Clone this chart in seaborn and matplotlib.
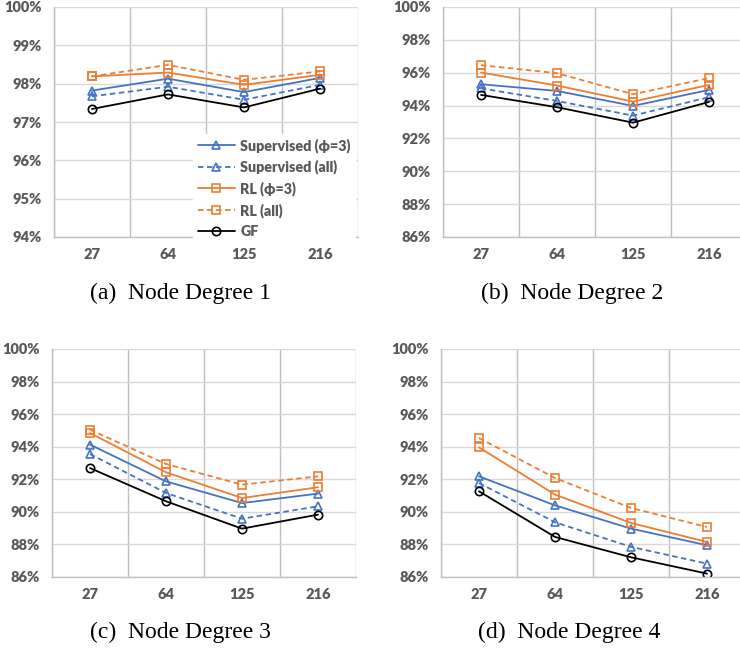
import numpy as np
import pandas as pd
import matplotlib
matplotlib.use("Agg")
import matplotlib.pyplot as plt
import seaborn as sns
from matplotlib.ticker import PercentFormatter, FixedLocator

sns.set_theme(style="white")
plt.rcParams['font.family'] = ['Lato', 'DejaVu Sans']

categories = ["27", "64", "125", "216"]
series_names = ["Supervised (\u03d5=3)", "Supervised (all)", "RL (\u03d5=3)", "RL (all)", "GF"]

# Node Degree 1
d1_sup3 = [97.82, 98.13, 97.78, 98.15]
d1_supall = [97.67, 97.92, 97.58, 97.97]
d1_rl3 = [98.19, 98.29, 97.97, 98.23]
d1_rlall = [98.19, 98.49, 98.10, 98.32]
d1_gf = [97.34, 97.72, 97.38, 97.87]
# Node Degree 2
d2_sup3 = [95.30, 94.89, 93.98, 94.95]
d2_supall = [95.05, 94.28, 93.39, 94.51]
d2_rl3 = [96.01, 95.22, 94.24, 95.26]
d2_rlall = [96.46, 95.97, 94.69, 95.67]
d2_gf = [94.65, 93.90, 92.96, 94.22]
# Node Degree 3
d3_sup3 = [94.13, 91.87, 90.54, 91.12]
d3_supall = [93.55, 91.16, 89.58, 90.34]
d3_rl3 = [94.84, 92.43, 90.85, 91.51]
d3_rlall = [95.05, 92.94, 91.67, 92.18]
d3_gf = [92.69, 90.65, 88.97, 89.83]
# Node Degree 4
d4_sup3 = [92.18, 90.40, 88.97, 87.95]
d4_supall = [91.77, 89.36, 87.85, 86.82]
d4_rl3 = [93.96, 91.06, 89.32, 88.15]
d4_rlall = [94.54, 92.08, 90.24, 89.07]
d4_gf = [91.26, 88.46, 87.21, 86.21]

captions = ["(a)  Node Degree 1", "(b)  Node Degree 2", "(c)  Node Degree 3", "(d)  Node Degree 4"]
panels = [
    [d1_sup3, d1_supall, d1_rl3, d1_rlall, d1_gf],
    [d2_sup3, d2_supall, d2_rl3, d2_rlall, d2_gf],
    [d3_sup3, d3_supall, d3_rl3, d3_rlall, d3_gf],
    [d4_sup3, d4_supall, d4_rl3, d4_rlall, d4_gf],
]
ylims = [(94, 100, 1), (86, 100, 2), (86, 100, 2), (86, 100, 2)]

BLUE = "#4472C4"
ORANGE = "#ED7D31"
DASH = (0, (3, 2))
styles = [
    dict(color=BLUE, linestyle="-", marker="^"),
    dict(color=BLUE, linestyle=DASH, marker="^"),
    dict(color=ORANGE, linestyle="-", marker="s"),
    dict(color=ORANGE, linestyle=DASH, marker="s"),
    dict(color="black", linestyle="-", marker="o"),
]

fig = plt.figure(figsize=(7.40, 6.49), dpi=100)
W, H = 740.0, 649.0
boxes = [(54, 7, 237), (443, 7, 237), (52, 349, 577), (441, 349, 577)]
cap_pos = [(181, 293), (572, 293), (180, 632), (569, 632)]
axw = 304

tick_color = "#595959"
xpos = np.arange(len(categories)) + 0.5

for i, (left, top, bot) in enumerate(boxes):
    ax = fig.add_axes([left / W, 1 - bot / H, axw / W, (bot - top) / H])
    for name, vals, st in zip(series_names, panels[i], styles):
        df = pd.DataFrame({"x": xpos, "y": vals})
        sns.lineplot(data=df, x="x", y="y", ax=ax, color=st["color"],
                     linestyle=st["linestyle"], marker=st["marker"],
                     markersize=6, markerfacecolor="none",
                     markeredgecolor=st["color"], markeredgewidth=1.2,
                     linewidth=1.3, label=name, legend=False)
    lo, hi, step = ylims[i]
    ax.set_xlim(0, len(categories))
    ax.set_ylim(lo, hi)
    ax.set_yticks(np.arange(lo, hi + 0.001, step))
    ax.yaxis.set_major_formatter(PercentFormatter(decimals=0))
    ax.set_xticks(xpos)
    ax.set_xticklabels(categories)
    ax.xaxis.set_minor_locator(FixedLocator(np.arange(0, len(categories) + 1)))
    ax.grid(axis="y", which="major", color="#d9d9d9", linewidth=1.0)
    ax.grid(axis="x", which="minor", color="#bfbfbf", linewidth=1.0)
    ax.grid(axis="x", which="major", visible=False)
    ax.set_axisbelow(True)
    ax.tick_params(axis="both", which="both", length=0)
    ax.tick_params(axis="y", pad=9)
    ax.tick_params(axis="x", pad=8)
    for lab in ax.get_xticklabels() + ax.get_yticklabels():
        lab.set_fontweight("heavy")
        lab.set_fontsize(10.5)
        lab.set_color(tick_color)
    ax.set_xlabel("")
    ax.set_ylabel("")
    for s in ["top", "right"]:
        ax.spines[s].set_visible(False)
    for s in ["left", "bottom"]:
        ax.spines[s].set_color("#bfbfbf")
        ax.spines[s].set_linewidth(1.0)
    if i == 0:
        leg = ax.legend(loc="lower right", bbox_to_anchor=(1.0, -0.035),
                        frameon=True, fancybox=False, edgecolor="white",
                        facecolor="white", framealpha=1.0, handlelength=2.6,
                        handletextpad=0.4, labelspacing=0.5, borderpad=0.3,
                        borderaxespad=0.2,
                        prop={"weight": "heavy", "size": 10.3})
        for t in leg.get_texts():
            t.set_color(tick_color)
    cx, cy = cap_pos[i]
    fig.text(cx / W, 1 - cy / H, captions[i], ha="center", va="center",
             fontsize=17, family=["Liberation Serif", "DejaVu Serif"], color="black")

fig.savefig("out.png", dpi=100)
